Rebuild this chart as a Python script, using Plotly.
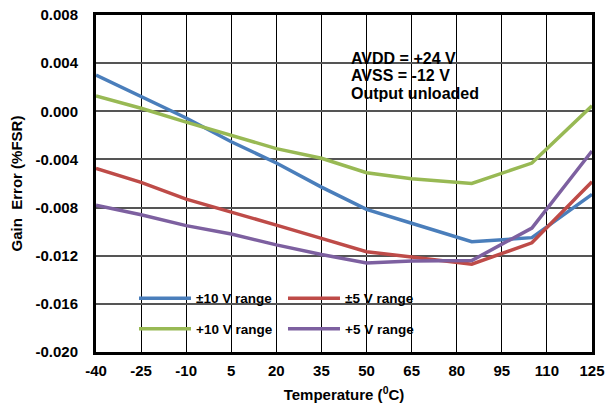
import plotly.graph_objects as go

temps = [-40, -25, -10, 5, 20, 35, 50, 65, 85, 105, 125]
err_pm10 = [0.0030, 0.0012, -0.00056, -0.00253, -0.0043, -0.0063, -0.00815, -0.0093, -0.01084, -0.0105, -0.0069]
err_pm5 = [-0.00474, -0.0059, -0.0073, -0.00835, -0.00946, -0.01056, -0.01167, -0.0121, -0.0127, -0.01093, -0.00585]
err_p10 = [0.00127, 0.00025, -0.0009, -0.0020, -0.0031, -0.0039, -0.0051, -0.0056, -0.0060, -0.0043, 0.00045]
err_p5 = [-0.0078, -0.0086, -0.0095, -0.0102, -0.0111, -0.0119, -0.0126, -0.01244, -0.0124, -0.0097, -0.0033]

x_tick_vals = [-40, -25, -10, 5, 20, 35, 50, 65, 80, 95, 110, 125]
x_tick_text = ["-40", "-25", "-10", "5", "20", "35", "50", "65", "80", "95", "110", "125"]
y_tick_vals = [-0.020, -0.016, -0.012, -0.008, -0.004, 0.000, 0.004, 0.008]
y_tick_text = ["-0.020", "-0.016", "-0.012", "-0.008", "-0.004", "0.000", "0.004", "0.008"]

condition_lines = ["AVDD = +24 V", "AVSS = -12 V", "Output unloaded"]

FONT = "Liberation Sans, Arial, Helvetica, sans-serif"

series = [
    ("±10 V range", err_pm10, "#4A7EBB", "legend", "g1"),
    ("±5 V range", err_pm5, "#BE4B48", "legend2", "g2"),
    ("+10 V range", err_p10, "#98B954", "legend", "g3"),
    ("+5 V range", err_p5, "#7D60A0", "legend2", "g4"),
]

fig = go.Figure()
for name, vals, color, leg, grp in series:
    fig.add_trace(go.Scatter(
        x=temps, y=vals, mode="lines", name=name,
        line=dict(color=color, width=3.5),
        legend=leg, legendgroup=grp,
    ))

legend_common = dict(
    orientation="v", bgcolor="rgba(0,0,0,0)",
    font=dict(family=FONT, size=13.5, color="black", weight="bold"),
    itemwidth=52, tracegroupgap=10, xanchor="left", yanchor="top",
    xref="paper", yref="paper",
)

annotations = []
for i, txt in enumerate(condition_lines):
    annotations.append(dict(
        text=txt, xref="paper", yref="paper", x=0.510, y=0.8724 - i * 0.0534,
        xanchor="left", yanchor="middle", align="left", showarrow=False,
        font=dict(family=FONT, size=16, color="black", weight="bold"),
    ))

fig.update_layout(
    width=615, height=406,
    margin=dict(l=96, r=23, t=15, b=54, autoexpand=False),
    paper_bgcolor="white", plot_bgcolor="white",
    font=dict(family=FONT, color="black"),
    legend=dict(x=0.0766, y=0.205, **legend_common),
    legend2=dict(x=0.377, y=0.205, **legend_common),
    xaxis=dict(
        range=[-40, 125], tickmode="array", tickvals=x_tick_vals, ticktext=x_tick_text,
        showgrid=True, gridcolor="#000", gridwidth=1,
        showline=True, linecolor="black", linewidth=3, mirror=True,
        ticks="outside", ticklen=3, tickcolor="rgba(0,0,0,0)",
        tickfont=dict(family=FONT, size=15, color="black", weight="bold"),
        title=dict(text="Temperature (<sup>0</sup>C)", standoff=12,
                   font=dict(family=FONT, size=15, color="black", weight="bold")),
        zeroline=False, automargin=False,
    ),
    yaxis=dict(
        range=[-0.020, 0.008], tickmode="array", tickvals=y_tick_vals, ticktext=y_tick_text,
        showgrid=True, gridcolor="#555", gridwidth=1.5,
        showline=True, linecolor="black", linewidth=3, mirror=True,
        ticks="outside", ticklen=12, tickcolor="rgba(0,0,0,0)",
        tickfont=dict(family=FONT, size=15, color="black", weight="bold"),
        title=dict(text="Gain  Error (%FSR)", standoff=10,
                   font=dict(family=FONT, size=15, color="black", weight="bold")),
        zeroline=False, automargin=False,
    ),
    shapes=[
        dict(type="rect", xref="paper", yref="paper", x0=0.472, x1=0.881, y0=0.706, y1=0.935,
             fillcolor="white", line=dict(width=0), layer="between"),
        dict(type="rect", xref="paper", yref="paper", x0=0.0685, x1=0.673, y0=0.0267, y1=0.205,
             fillcolor="white", line=dict(width=0), layer="between"),
    ],
    annotations=annotations,
)

fig.write_html(
    "out.html",
    config={"displayModeBar": False},
    post_script="document.body.style.margin='0';document.body.style.overflow='hidden';",
)
